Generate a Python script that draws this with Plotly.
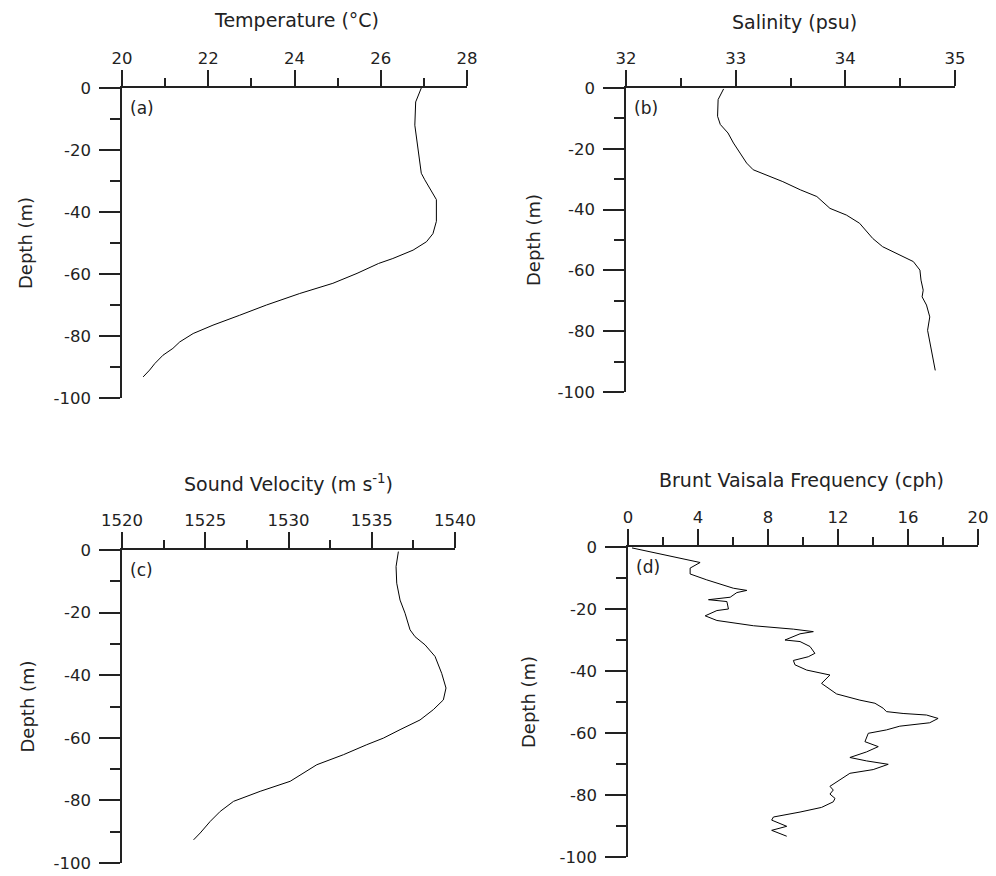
import plotly.graph_objects as go

# ---------------- data ----------------
temp_depth = [0, -4.5, -12, -20, -27.5, -29.6, -34, -36, -43, -47, -49.6, -52.3, -55, -56.6,
              -59.8, -63, -66.3, -70, -73.3, -76.5, -79.2, -81.9, -84, -86.2, -88.9, -91, -93.2]
temp_val = [26.94, 26.81, 26.79, 26.86, 26.94, 27.02, 27.21, 27.29, 27.29, 27.21, 27.06, 26.75,
            26.28, 25.95, 25.45, 24.89, 24.12, 23.35, 22.73, 22.11, 21.65, 21.34, 21.18, 20.95,
            20.76, 20.64, 20.49]

sal_depth = [-0.3, -3.8, -9.3, -12, -14.8, -18.1, -21.4, -24.7, -26.9, -28.6, -30.8, -33.5, -35.7,
             -39.6, -41.8, -44.5, -49.5, -52.2, -54.9, -57.1, -59.9, -63.2, -66.5, -68.7, -71.4,
             -75.3, -79.7, -85.2, -89.6, -92.9]
sal_val = [32.89, 32.84, 32.835, 32.86, 32.93, 32.98, 33.04, 33.10, 33.16, 33.28, 33.43, 33.59,
           33.74, 33.86, 34.01, 34.13, 34.25, 34.34, 34.50, 34.62, 34.68, 34.69, 34.71, 34.70,
           34.74, 34.77, 34.75, 34.78, 34.80, 34.82]

sv_depth = [-0.5, -5.3, -10.6, -16, -20.2, -25.5, -27.7, -30.3, -34, -39.4, -44.1, -47.9, -51,
            -54.3, -57.4, -60.1, -62.2, -65.4, -68.6, -73.9, -77.1, -80.3, -83.5, -86.7, -90.4, -92.6]
sv_val = [1536.6, 1536.46, 1536.5, 1536.7, 1537.0, 1537.3, 1537.6, 1538.2, 1538.8, 1539.2, 1539.46,
          1539.3, 1538.7, 1537.9, 1536.7, 1535.7, 1534.7, 1533.3, 1531.7, 1530.1, 1528.3, 1526.7,
          1525.9, 1525.3, 1524.7, 1524.3]

bv_depth = [-0.3, -5.0, -6.8, -8.7, -10.6, -13.3, -14.0, -14.7, -16.2, -17.0, -17.6, -20.0, -20.5,
            -22.2, -23.7, -25.4, -26.5, -27.3, -28.0, -30.0, -30.5, -32.1, -34.3, -35.4, -36.6,
            -38.0, -39.7, -41.3, -44.0, -46.7, -47.4, -49.4, -50.4, -52.0, -53.1, -53.7, -54.2,
            -55.3, -56.7, -57.8, -59.0, -60.1, -62.8, -64.4, -66.1, -67.9, -69.0, -70.1, -71.8,
            -73.0, -75.2, -77.2, -78.4, -79.7, -81.1, -82.2, -84.0, -85.5, -87.1, -88.1, -90.1,
            -91.4, -93.3]
bv_val = [0.23, 4.12, 3.55, 3.55, 4.5, 6.02, 6.79, 6.22, 5.84, 4.6, 5.65, 5.74, 5.08,
          4.41, 5.08, 7.17, 9.45, 10.59, 9.83, 8.97, 9.83, 10.4, 10.68, 10.30, 9.45,
          9.54, 10.21, 11.54, 11.06, 11.73, 11.92, 13.25, 14.11, 14.58, 14.77, 15.72, 17.06,
          17.72, 17.24, 15.53, 14.77, 13.73, 13.54, 14.30, 13.63, 12.68, 13.63, 14.87, 14.01,
          12.68, 12.11, 11.54, 11.73, 11.54, 11.83, 11.73, 11.06, 9.83, 8.31, 8.21, 9.07,
          8.21, 9.07]

depth_ticks = [0, -20, -40, -60, -80, -100]
depth_ticktext = ["0", "-20", "-40", "-60", "-80", "-100"]
depth_minor = [-10, -30, -50, -70, -90]

panels = [
    dict(x=temp_val, y=temp_depth, title="Temperature (°C)", rng=[20, 28], dtick=2, mdtick=1,
         tag="(a)"),
    dict(x=sal_val, y=sal_depth, title="Salinity (psu)", rng=[32, 35], dtick=1, mdtick=0.5,
         tag="(b)"),
    dict(x=sv_val, y=sv_depth, title="Sound Velocity (m s<sup>-1</sup>)", rng=[1520, 1540],
         dtick=5, mdtick=2.5, tag="(c)"),
    dict(x=bv_val, y=bv_depth, title="Brunt Vaisala Frequency (cph)", rng=[0, 20], dtick=4,
         mdtick=2, tag="(d)"),
]

# ---------------- layout geometry (pixels) ----------------
W, H = 996, 876
boxes = [(122, 467, 88, 398), (626, 955, 88, 392), (122, 455, 550, 863), (628, 978, 547, 857)]
title_pos = [(296, 20), (794, 22), (288, 483), (801, 480)]
ytitle_x = [25, 533, 27, 528]

FONT = "DejaVu Sans"
COL = "#222222"
TICK_SIZE = 16.5

fig = go.Figure()
annotations = []
for i, (p, b) in enumerate(zip(panels, boxes)):
    n = "" if i == 0 else str(i + 1)
    xa, ya = "x" + n, "y" + n
    fig.add_trace(go.Scatter(x=p["x"], y=p["y"], mode="lines", xaxis=xa, yaxis=ya,
                             line=dict(color="black", width=1), showlegend=False,
                             hoverinfo="skip"))
    x0, x1, yt, yb = b
    fig.layout["xaxis" + n] = dict(
        domain=[x0 / W, x1 / W], anchor=ya, side="top", range=p["rng"], automargin=False,
        tickmode="linear", tick0=p["rng"][0], dtick=p["dtick"],
        ticks="outside", ticklen=16, tickwidth=1.5, tickcolor="#222",
        showline=True, linecolor="#222", linewidth=1.5, mirror=False,
        showgrid=False, zeroline=False, ticklabelstandoff=0,
        tickfont=dict(family=FONT, size=TICK_SIZE, color=COL),
        minor=dict(dtick=p["mdtick"], tick0=p["rng"][0], ticks="outside", ticklen=8,
                   tickwidth=1.5, tickcolor="#222", showgrid=False),
    )
    fig.layout["yaxis" + n] = dict(
        domain=[1 - yb / H, 1 - yt / H], anchor=xa, side="left", range=[-100, 0],
        automargin=False,
        tickmode="array", tickvals=depth_ticks, ticktext=depth_ticktext,
        ticks="outside", ticklen=21, tickwidth=1.5, tickcolor="#222",
        showline=True, linecolor="#222", linewidth=1.5, mirror=False,
        showgrid=False, zeroline=False, ticklabelstandoff=5,
        tickfont=dict(family=FONT, size=TICK_SIZE, color=COL),
        minor=dict(tickmode="array", tickvals=depth_minor, ticks="outside", ticklen=10,
                   tickwidth=1.5, tickcolor="#222", showgrid=False),
    )
    tx, ty = title_pos[i]
    annotations.append(dict(text=p["title"], x=tx / W, y=1 - ty / H, xref="paper", yref="paper",
                            xanchor="center", yanchor="middle", showarrow=False,
                            font=dict(family=FONT, size=19, color=COL)))
    annotations.append(dict(text="Depth (m)", x=ytitle_x[i] / W, y=1 - ((yt + yb) / 2) / H,
                            xref="paper", yref="paper", xanchor="center", yanchor="middle",
                            textangle=-90, showarrow=False,
                            font=dict(family=FONT, size=18, color=COL)))
    annotations.append(dict(text=p["tag"], x=(x0 + 6) / W, y=1 - (yt + 20) / H, xref="paper",
                            yref="paper", xanchor="left", yanchor="middle", showarrow=False,
                            font=dict(family=FONT, size=17, color=COL)))

fig.update_layout(width=W, height=H, margin=dict(l=0, r=0, t=0, b=0), template="none",
                  paper_bgcolor="white", plot_bgcolor="white", annotations=annotations)

fig.write_html("out.html")
